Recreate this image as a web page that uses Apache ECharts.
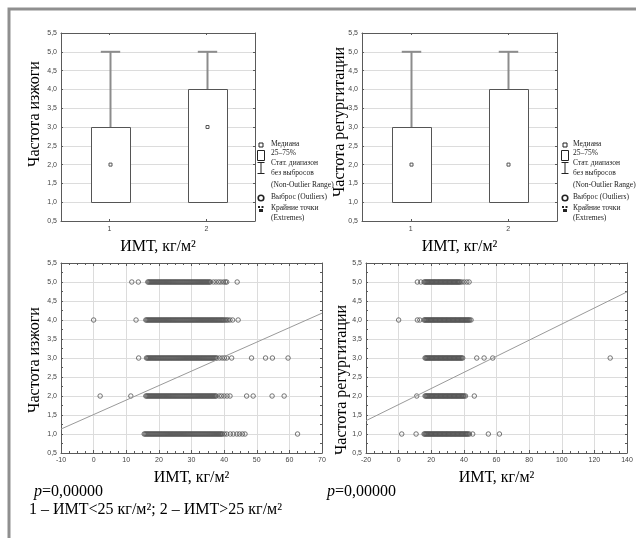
<!DOCTYPE html>
<html>
<head>
<meta charset="utf-8">
<script src="https://cdn.jsdelivr.net/npm/echarts@6/dist/echarts.min.js"></script>
<style>
  html, body { margin: 0; padding: 0; background: #fff; }
  #container { width: 636px; height: 538px; }
</style>
</head>
<body>
<div id="container"></div>
<script>
// box plots: 1 - ИМТ<25, 2 - ИМТ>25
var boxCats = ['1', '2'];
var heartMin = [1, 1], heartQ1 = [1, 1], heartMed = [2, 3], heartQ3 = [3, 4], heartMax = [5, 5];
var regMin = [1, 1], regQ1 = [1, 1], regMed = [2, 2], regQ3 = [3, 4], regMax = [5, 5];

// scatter: ИМТ values read for each frequency level (частота изжоги)
var heartX5 = [11.7, 13.7, 16.6, 16.9, 17.2, 17.5, 17.8, 18.1, 18.4, 18.7, 19.0, 19.3, 19.6, 19.9, 20.2, 20.5, 20.8, 21.1, 21.4, 21.7, 22.0, 22.3, 22.6, 22.9, 23.2, 23.5, 23.8, 24.1, 24.4, 24.7, 25.0, 25.3, 25.6, 25.9, 26.2, 26.5, 26.8, 27.1, 27.4, 27.7, 28.0, 28.3, 28.6, 28.9, 29.2, 29.5, 29.8, 30.1, 30.4, 30.7, 31.0, 31.3, 31.6, 31.9, 32.2, 32.5, 32.8, 33.1, 33.4, 33.7, 34.0, 34.3, 34.6, 34.9, 35.2, 35.5, 35.8, 36.7, 37.5, 38.3, 39.0, 39.8, 40.4, 40.8, 44.0];
var heartX4 = [0, 13.0, 16.0, 16.3, 16.6, 16.9, 17.2, 17.5, 17.8, 18.1, 18.4, 18.7, 19.0, 19.3, 19.6, 19.9, 20.2, 20.5, 20.8, 21.1, 21.4, 21.7, 22.0, 22.3, 22.6, 22.9, 23.2, 23.5, 23.8, 24.1, 24.4, 24.7, 25.0, 25.3, 25.6, 25.9, 26.2, 26.5, 26.8, 27.1, 27.4, 27.7, 28.0, 28.3, 28.6, 28.9, 29.2, 29.5, 29.8, 30.1, 30.4, 30.7, 31.0, 31.3, 31.6, 31.9, 32.2, 32.5, 32.8, 33.1, 33.4, 33.7, 34.0, 34.3, 34.6, 34.9, 35.2, 35.5, 35.8, 36.1, 36.4, 36.7, 37.0, 37.3, 37.6, 37.9, 38.2, 38.5, 38.8, 39.1, 39.4, 39.7, 40.0, 40.4, 40.8, 41.2, 41.8, 42.6, 44.3];
var heartX3 = [13.8, 16.2, 16.5, 16.8, 17.1, 17.4, 17.7, 18.0, 18.3, 18.6, 18.9, 19.2, 19.5, 19.8, 20.1, 20.4, 20.7, 21.0, 21.3, 21.6, 21.9, 22.2, 22.5, 22.8, 23.1, 23.4, 23.7, 24.0, 24.3, 24.6, 24.9, 25.2, 25.5, 25.8, 26.1, 26.4, 26.7, 27.0, 27.3, 27.6, 27.9, 28.2, 28.5, 28.8, 29.1, 29.4, 29.7, 30.0, 30.3, 30.6, 30.9, 31.2, 31.5, 31.8, 32.1, 32.4, 32.7, 33.0, 33.3, 33.6, 33.9, 34.2, 34.5, 34.8, 35.1, 35.4, 35.7, 36.0, 36.3, 36.6, 36.9, 37.2, 37.5, 37.8, 38.6, 39.4, 40.1, 40.8, 42.3, 48.4, 52.7, 54.8, 59.6];
var heartX2 = [2.0, 11.4, 16.0, 16.3, 16.6, 16.9, 17.2, 17.5, 17.8, 18.1, 18.4, 18.7, 19.0, 19.3, 19.6, 19.9, 20.2, 20.5, 20.8, 21.1, 21.4, 21.7, 22.0, 22.3, 22.6, 22.9, 23.2, 23.5, 23.8, 24.1, 24.4, 24.7, 25.0, 25.3, 25.6, 25.9, 26.2, 26.5, 26.8, 27.1, 27.4, 27.7, 28.0, 28.3, 28.6, 28.9, 29.2, 29.5, 29.8, 30.1, 30.4, 30.7, 31.0, 31.3, 31.6, 31.9, 32.2, 32.5, 32.8, 33.1, 33.4, 33.7, 34.0, 34.3, 34.6, 34.9, 35.2, 35.5, 35.8, 36.1, 36.4, 36.7, 37.0, 37.3, 37.6, 38.5, 39.2, 40.0, 40.9, 41.8, 46.9, 48.9, 54.7, 58.4];
var heartX1 = [15.5, 15.8, 16.1, 16.4, 16.7, 17.0, 17.3, 17.6, 17.9, 18.2, 18.5, 18.8, 19.1, 19.4, 19.7, 20.0, 20.3, 20.6, 20.9, 21.2, 21.5, 21.8, 22.1, 22.4, 22.7, 23.0, 23.3, 23.6, 23.9, 24.2, 24.5, 24.8, 25.1, 25.4, 25.7, 26.0, 26.3, 26.6, 26.9, 27.2, 27.5, 27.8, 28.1, 28.4, 28.7, 29.0, 29.3, 29.6, 29.9, 30.2, 30.5, 30.8, 31.1, 31.4, 31.7, 32.0, 32.3, 32.6, 32.9, 33.2, 33.5, 33.8, 34.1, 34.4, 34.7, 35.0, 35.3, 35.6, 35.9, 36.2, 36.5, 36.8, 37.1, 37.4, 37.7, 38.0, 38.3, 38.6, 38.9, 39.2, 39.5, 40.1, 40.8, 41.9, 42.8, 43.9, 44.7, 45.6, 46.4, 62.5];
var heartLineX = [-10, 70], heartLineY = [1.13, 4.18];

// scatter: ИМТ values read for each frequency level (частота регургитации)
var regX5 = [11.5, 13.6, 15.6, 16.2, 16.7, 17.2, 17.7, 18.2, 18.7, 19.2, 19.7, 20.2, 20.7, 21.2, 21.7, 22.2, 22.7, 23.2, 23.7, 24.2, 24.7, 25.2, 25.7, 26.2, 26.7, 27.2, 27.7, 28.2, 28.7, 29.2, 29.7, 30.2, 30.7, 31.2, 31.7, 32.2, 32.7, 33.2, 33.7, 34.2, 34.7, 35.2, 35.7, 36.2, 36.7, 37.2, 37.7, 38.7, 40.1, 41.8, 43.2];
var regX4 = [0, 11.5, 13.0, 15.6, 16.1, 16.6, 17.1, 17.6, 18.1, 18.6, 19.1, 19.6, 20.1, 20.6, 21.1, 21.6, 22.1, 22.6, 23.1, 23.6, 24.1, 24.6, 25.1, 25.6, 26.1, 26.6, 27.1, 27.6, 28.1, 28.6, 29.1, 29.6, 30.1, 30.6, 31.1, 31.6, 32.1, 32.6, 33.1, 33.6, 34.1, 34.6, 35.1, 35.6, 36.1, 36.6, 37.1, 37.6, 38.1, 38.6, 39.1, 39.6, 40.1, 40.6, 41.1, 41.6, 42.1, 42.6, 43.1, 43.6, 44.4];
var regX3 = [16.2, 16.7, 17.2, 17.7, 18.2, 18.7, 19.2, 19.7, 20.2, 20.7, 21.2, 21.7, 22.2, 22.7, 23.2, 23.7, 24.2, 24.7, 25.2, 25.7, 26.2, 26.7, 27.2, 27.7, 28.2, 28.7, 29.2, 29.7, 30.2, 30.7, 31.2, 31.7, 32.2, 32.7, 33.2, 33.7, 34.2, 34.7, 35.2, 35.7, 36.2, 36.7, 37.2, 37.7, 38.2, 38.7, 39.3, 47.9, 52.4, 57.7, 129.7];
var regX2 = [11.1, 16.2, 16.7, 17.2, 17.7, 18.2, 18.7, 19.2, 19.7, 20.2, 20.7, 21.2, 21.7, 22.2, 22.7, 23.2, 23.7, 24.2, 24.7, 25.2, 25.7, 26.2, 26.7, 27.2, 27.7, 28.2, 28.7, 29.2, 29.7, 30.2, 30.7, 31.2, 31.7, 32.2, 32.7, 33.2, 33.7, 34.2, 34.7, 35.2, 35.7, 36.2, 36.7, 37.2, 37.7, 38.2, 38.7, 39.2, 39.7, 40.2, 41.0, 46.4];
var regX1 = [1.9, 10.7, 15.6, 16.1, 16.6, 17.1, 17.6, 18.1, 18.6, 19.1, 19.6, 20.1, 20.6, 21.1, 21.6, 22.1, 22.6, 23.1, 23.6, 24.1, 24.6, 25.1, 25.6, 26.1, 26.6, 27.1, 27.6, 28.1, 28.6, 29.1, 29.6, 30.1, 30.6, 31.1, 31.6, 32.1, 32.6, 33.1, 33.6, 34.1, 34.6, 35.1, 35.6, 36.1, 36.6, 37.1, 37.6, 38.1, 38.6, 39.1, 39.6, 40.1, 40.6, 41.1, 41.6, 42.1, 42.6, 43.4, 45.4, 55.0, 61.8];
var regLineX = [-20, 140], regLineY = [1.35, 4.74];

var legendText = ['Медиана', '25–75%', 'Стат. диапазон', 'без выбросов', '(Non-Outlier Range)', 'Выброс (Outliers)', 'Крайние точки', '(Extremes)'];

var serif = '"Liberation Serif", "Times New Roman", serif';
var sans = '"Liberation Sans", Arial, sans-serif';
var frameColor = '#5a5a5a';

function fmtY(v) { return v.toFixed(1).replace('.', ','); }

function boxData(mins, q1, med, q3, max) {
    var out = [];
    for (var i = 0; i < boxCats.length; i++) out.push([i, mins[i], q1[i], med[i], q3[i], max[i]]);
    return out;
}

function rowsData(rows) {
    var out = [];
    for (var k = 0; k < rows.length; k++) {
        for (var i = 0; i < rows[k].length; i++) out.push([rows[k][i], k + 1]);
    }
    return out;
}

function pairs(xs, ys) {
    var out = [];
    for (var i = 0; i < xs.length; i++) out.push([xs[i], ys[i]]);
    return out;
}

function renderBox(params, api) {
    var idx = api.value(0);
    var pMin = api.coord([idx, api.value(1)]);
    var pQ1 = api.coord([idx, api.value(2)]);
    var pMed = api.coord([idx, api.value(3)]);
    var pQ3 = api.coord([idx, api.value(4)]);
    var pMax = api.coord([idx, api.value(5)]);
    var band = api.size([1, 0])[0];
    var bw = band * 0.4, cw = band * 0.2;
    var cx = Math.round(pQ1[0]) + 0.5;
    var wStyle = { stroke: '#8c8c8c', lineWidth: 2 };
    return {
        type: 'group',
        children: [
            { type: 'line', shape: { x1: cx, y1: pQ3[1], x2: cx, y2: pMax[1] }, style: wStyle },
            { type: 'line', shape: { x1: cx - cw / 2, y1: pMax[1], x2: cx + cw / 2, y2: pMax[1] }, style: wStyle },
            { type: 'line', shape: { x1: cx, y1: pMin[1], x2: cx, y2: pQ1[1] }, style: wStyle },
            { type: 'rect', shape: { x: Math.round(cx - bw / 2) + 0.5, y: Math.round(pQ3[1]) + 0.5, width: Math.round(bw), height: Math.round(pQ1[1] - pQ3[1]) },
              style: { fill: '#fff', stroke: '#555', lineWidth: 1 } },
            { type: 'rect', shape: { x: cx - 1.5, y: pMed[1] - 1.5, width: 3, height: 3 },
              style: { fill: '#fff', stroke: '#555', lineWidth: 1 } }
        ]
    };
}

function legendGraphics(mx, tx) {
    var rowsY = [145, 154, 164, 174, 186, 198, 209, 219];
    var g = [];
    for (var i = 0; i < legendText.length; i++) {
        g.push({ type: 'text', left: tx, top: rowsY[i] - 5,
            style: { text: legendText[i], font: '7.5px ' + serif, fill: '#222' } });
    }
    var st = { stroke: '#222', fill: 'none', lineWidth: 1 };
    g.push({ type: 'rect', shape: { x: mx - 2, y: 143, width: 4, height: 4 }, style: st });
    g.push({ type: 'rect', shape: { x: mx - 3.5, y: 150.5, width: 7, height: 10 }, style: st });
    g.push({ type: 'polyline', shape: { points: [[mx, 162.5], [mx, 173.5]] }, style: st });
    g.push({ type: 'polyline', shape: { points: [[mx - 3.5, 162.5], [mx + 3.5, 162.5]] }, style: st });
    g.push({ type: 'polyline', shape: { points: [[mx - 3.5, 173.5], [mx + 3.5, 173.5]] }, style: st });
    g.push({ type: 'circle', shape: { cx: mx, cy: 198, r: 2.8 }, style: { stroke: '#222', fill: 'none', lineWidth: 1.6 } });
    g.push({ type: 'rect', shape: { x: mx - 3, y: 206, width: 2, height: 2 }, style: { fill: '#222' } });
    g.push({ type: 'rect', shape: { x: mx + 0.5, y: 206, width: 2, height: 2 }, style: { fill: '#222' } });
    g.push({ type: 'rect', shape: { x: mx - 2, y: 209, width: 4, height: 3 }, style: { fill: '#222' } });
    return g;
}

function yTitle(text, x, y) {
    return { type: 'text', x: x, y: y, rotation: Math.PI / 2,
        style: { text: text, font: '16px ' + serif, fill: '#000', align: 'center', verticalAlign: 'middle' } };
}

function bottomX(grid, data, name) {
    return {
        gridIndex: grid, type: 'category', data: data, position: 'bottom', boundaryGap: true,
        axisLine: { show: true, lineStyle: { color: frameColor } },
        axisTick: { show: true, inside: true, length: 2, alignWithLabel: true, lineStyle: { color: frameColor } },
        axisLabel: { fontSize: 7, fontFamily: sans, color: '#444', margin: 5 },
        splitLine: { show: false },
        name: name, nameLocation: 'middle', nameGap: 18,
        nameTextStyle: { fontFamily: serif, fontSize: 16, color: '#000' }
    };
}

function topX(grid, data) {
    return {
        gridIndex: grid, type: 'category', data: data, position: 'top', boundaryGap: true,
        axisLine: { show: true, lineStyle: { color: frameColor } },
        axisTick: { show: true, inside: true, length: 2, alignWithLabel: true, lineStyle: { color: frameColor } },
        axisLabel: { show: false }, splitLine: { show: false }
    };
}

function valueX(grid, min, max, pos, name) {
    var ax = {
        gridIndex: grid, type: 'value', min: min, max: max, interval: 10 * ((max - min) / 80), position: pos,
        axisLine: { show: true, onZero: false, lineStyle: { color: frameColor } },
        axisTick: { show: true, inside: true, length: 3, lineStyle: { color: frameColor } },
        minorTick: { show: true, splitNumber: 4, length: 2, lineStyle: { color: frameColor } },
        axisLabel: { show: pos === 'bottom', fontSize: 7, fontFamily: sans, color: '#444', margin: 4 },
        splitLine: { show: pos === 'bottom', lineStyle: { color: '#dcdcdc' } }
    };
    if (name) {
        ax.name = name; ax.nameLocation = 'middle'; ax.nameGap = 17;
        ax.nameTextStyle = { fontFamily: serif, fontSize: 16, color: '#000' };
    }
    return ax;
}

function valueY(grid, pos, minor) {
    return {
        gridIndex: grid, type: 'value', min: 0.5, max: 5.5, interval: 0.5, position: pos,
        axisLine: { show: true, onZero: false, lineStyle: { color: frameColor } },
        axisTick: { show: true, inside: true, length: 2, lineStyle: { color: frameColor } },
        minorTick: { show: minor, splitNumber: 2, length: 2, lineStyle: { color: frameColor } },
        axisLabel: { show: pos === 'left', fontSize: 7, fontFamily: sans, color: '#444', margin: 4, formatter: fmtY },
        splitLine: { show: pos === 'left', lineStyle: { color: '#dcdcdc' } }
    };
}

var dom = document.getElementById('container');
var myChart = echarts.init(dom, null, { renderer: 'canvas' });

var scatterStyle = { color: 'rgba(0,0,0,0)', borderColor: '#555', borderWidth: 1 };
var imt = 'ИМТ, кг/м²';

var option = {
    backgroundColor: '#fff',
    animation: false,
    grid: [
        { left: 61, top: 33, width: 194, height: 188 },
        { left: 362, top: 33, width: 195, height: 188 },
        { left: 61, top: 263, width: 261, height: 190 },
        { left: 366, top: 263, width: 261, height: 190 }
    ],
    xAxis: [
        bottomX(0, boxCats, imt), topX(0, boxCats),
        bottomX(1, boxCats, imt), topX(1, boxCats),
        valueX(2, -10, 70, 'bottom', imt), valueX(2, -10, 70, 'top'),
        valueX(3, -20, 140, 'bottom', imt), valueX(3, -20, 140, 'top')
    ],
    yAxis: [
        valueY(0, 'left', false), valueY(0, 'right', false),
        valueY(1, 'left', false), valueY(1, 'right', false),
        valueY(2, 'left', true), valueY(2, 'right', true),
        valueY(3, 'left', true), valueY(3, 'right', true)
    ],
    series: [
        { type: 'custom', xAxisIndex: 0, yAxisIndex: 0, renderItem: renderBox,
          encode: { x: 0, y: [1, 2, 3, 4, 5] },
          data: boxData(heartMin, heartQ1, heartMed, heartQ3, heartMax) },
        { type: 'custom', xAxisIndex: 2, yAxisIndex: 2, renderItem: renderBox,
          encode: { x: 0, y: [1, 2, 3, 4, 5] },
          data: boxData(regMin, regQ1, regMed, regQ3, regMax) },
        { type: 'scatter', xAxisIndex: 4, yAxisIndex: 4, symbol: 'circle', symbolSize: 4.5,
          itemStyle: scatterStyle, data: rowsData([heartX1, heartX2, heartX3, heartX4, heartX5]) },
        { type: 'line', xAxisIndex: 4, yAxisIndex: 4, symbol: 'none',
          lineStyle: { color: '#9a9a9a', width: 1 }, data: pairs(heartLineX, heartLineY) },
        { type: 'scatter', xAxisIndex: 6, yAxisIndex: 6, symbol: 'circle', symbolSize: 4.5,
          itemStyle: scatterStyle, data: rowsData([regX1, regX2, regX3, regX4, regX5]) },
        { type: 'line', xAxisIndex: 6, yAxisIndex: 6, symbol: 'none',
          lineStyle: { color: '#9a9a9a', width: 1 }, data: pairs(regLineX, regLineY) }
    ],
    graphic: [
        { type: 'rect', shape: { x: 9, y: 9, width: 900, height: 900 },
          style: { fill: 'none', stroke: '#8f8f8f', lineWidth: 3 }, z: 0 },
        yTitle('Частота изжоги', 35, 114),
        yTitle('Частота регургитации', 340, 122),
        yTitle('Частота изжоги', 35, 360),
        yTitle('Частота регургитации', 342, 380),
        { type: 'text', left: 34, top: 484,
          style: { text: '{i|p}=0,00000', font: '16px ' + serif, fill: '#000',
                   rich: { i: { fontStyle: 'italic', fontFamily: serif, fontSize: 16 } } } },
        { type: 'text', left: 327, top: 484,
          style: { text: '{i|p}=0,00000', font: '16px ' + serif, fill: '#000',
                   rich: { i: { fontStyle: 'italic', fontFamily: serif, fontSize: 16 } } } },
        { type: 'text', left: 29, top: 502,
          style: { text: '1 – ИМТ<25 кг/м²; 2 – ИМТ>25 кг/м²', font: '16px ' + serif, fill: '#000' } }
    ].concat(legendGraphics(261, 271)).concat(legendGraphics(565, 573))
};

myChart.setOption(option, true);
</script>
</body>
</html>
